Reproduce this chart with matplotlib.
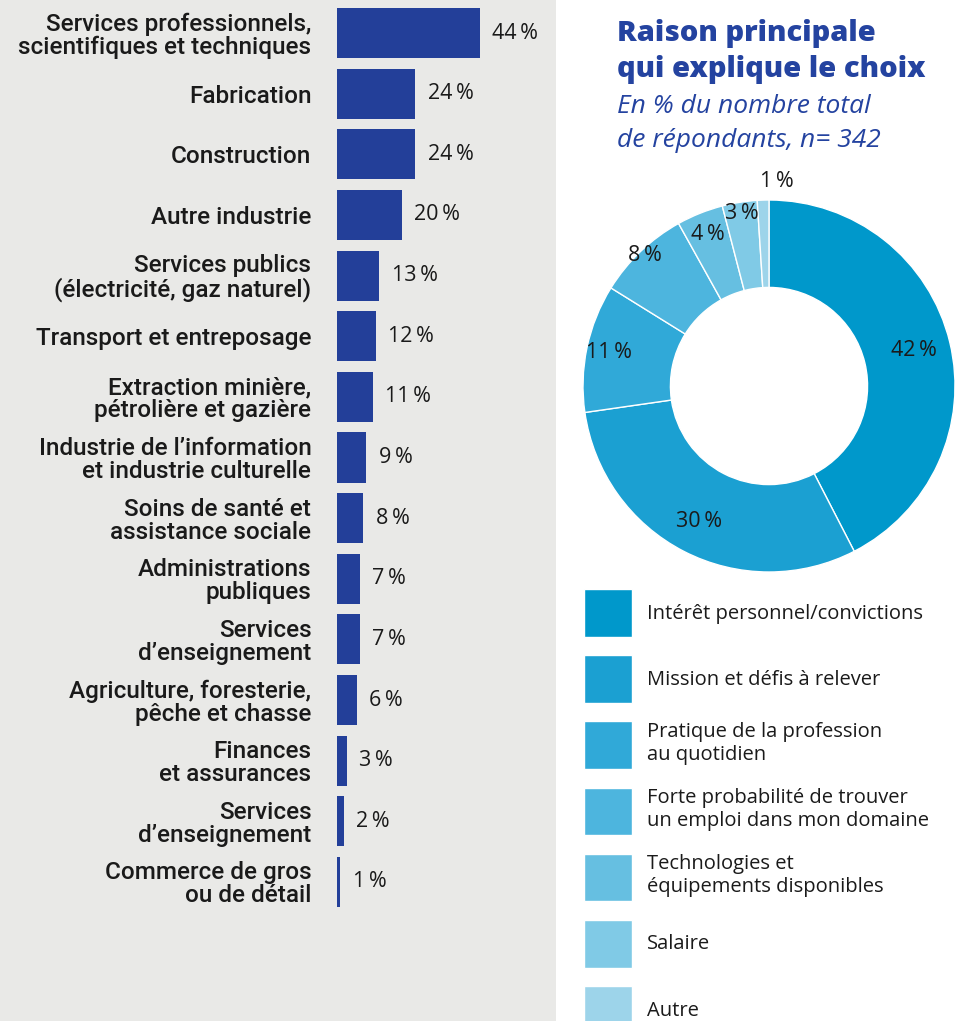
import matplotlib
matplotlib.use("Agg")
import matplotlib.pyplot as plt
from matplotlib.patches import Rectangle
import numpy as np

# ----- data -----------------------------------------------------------
sectors = [
    "Services professionnels,\nscientifiques et techniques",
    "Fabrication",
    "Construction",
    "Autre industrie",
    "Services publics\n(électricité, gaz naturel)",
    "Transport et entreposage",
    "Extraction minière,\npétrolière et gazière",
    "Industrie de l’information\net industrie culturelle",
    "Soins de santé et\nassistance sociale",
    "Administrations\npubliques",
    "Services\nd’enseignement",
    "Agriculture, foresterie,\npêche et chasse",
    "Finances\net assurances",
    "Services\nd’enseignement",
    "Commerce de gros\nou de détail",
]
sector_pct = [44, 24, 24, 20, 13, 12, 11, 9, 8, 7, 7, 6, 3, 2, 1]

reasons = [
    "Intérêt personnel/convictions",
    "Mission et défis à relever",
    "Pratique de la profession\nau quotidien",
    "Forte probabilité de trouver\nun emploi dans mon domaine",
    "Technologies et\néquipements disponibles",
    "Salaire",
    "Autre",
]
reason_pct = [42, 30, 11, 8, 4, 3, 1]

# ----- style ----------------------------------------------------------
FONT = "Open Sans"
LABEL_FONT = "Roboto"
BAR_COLOR = "#233f99"
TITLE_COLOR = "#2443a0"
GREY = "#e9e9e7"
TXT = "#1a1a1a"
DONUT_COLORS = ["#0098cb", "#1ba0d2", "#30a9d8", "#4db5de",
                "#66bfe1", "#80cae6", "#9dd4ea"]
LABEL_R = [0.80, 0.82, 0.88, 0.97, 0.88, 0.94, 1.10]

W, H = 955, 1021
plt.rcParams["font.family"] = [FONT, "DejaVu Sans"]
fig = plt.figure(figsize=(W / 100, H / 100), dpi=100)
fig.patch.set_facecolor("white")
fig.patches.append(Rectangle((0, 0), 556 / W, 1, transform=fig.transFigure,
                             facecolor=GREY, edgecolor="none", zorder=-10))


def px(x0, y0, x1, y1):
    """pixel box (top-left origin) -> figure fraction rect"""
    return [x0 / W, 1 - y1 / H, (x1 - x0) / W, (y1 - y0) / H]


# ----- bars -----------------------------------------------------------
ax = fig.add_axes(px(337, 2.7, 532, 912.3))
ax.set_facecolor("none")
y = np.arange(len(sectors))
ax.barh(y, sector_pct, height=0.825, color=BAR_COLOR)
ax.set_xlim(0, 60)
ax.set_ylim(len(sectors) - 0.5, -0.5)
ax.set_yticks(y)
ax.set_yticklabels(sectors, fontsize=17.5, fontweight="medium", color=TXT,
                   linespacing=1.0, ha="right", family=[LABEL_FONT, "DejaVu Sans"])
ax.tick_params(axis="y", length=0, pad=18.5)
ax.set_xticks([])
for s in ax.spines.values():
    s.set_visible(False)
for yi, v in zip(y, sector_pct):
    ax.annotate(f"{v}\u2009%", (v, yi), xytext=(9, 0), textcoords="offset points",
                va="center", ha="left", fontsize=15.5, color=TXT)

# ----- titles ---------------------------------------------------------
for txt, yb in [("Raison principale", 41), ("qui explique le choix", 77)]:
    fig.text(617 / W, 1 - yb / H, txt, fontsize=21, fontweight="heavy",
             color=TITLE_COLOR)
for txt, yb in [("En % du nombre total", 113), ("de répondants, n= 342", 147)]:
    fig.text(617 / W, 1 - yb / H, txt, fontsize=19, style="italic",
             color=TITLE_COLOR)

# ----- donut ----------------------------------------------------------
ax2 = fig.add_axes(px(583, 200, 955, 572))
wedges, _ = ax2.pie(reason_pct, colors=DONUT_COLORS, startangle=90,
                    counterclock=False, radius=1,
                    wedgeprops=dict(width=0.47, edgecolor="white", linewidth=1))
ax2.set_xlim(-1, 1)
ax2.set_ylim(-1, 1)
ax2.set_aspect("equal")
ax2.axis("off")
for w, v, r in zip(wedges, reason_pct, LABEL_R):
    ang = np.deg2rad((w.theta1 + w.theta2) / 2)
    if v == 1:
        ang -= np.deg2rad(4)
    ax2.text(r * np.cos(ang), r * np.sin(ang), f"{v}\u2009%", ha="center",
             va="center", fontsize=15.5, color=TXT, clip_on=False)

fs = 14.5
fpx = fs * 100 / 72
fig.legend(wedges, reasons, loc="upper left",
           bbox_to_anchor=(584 / W, 1 - 589 / H), frameon=False,
           fontsize=fs, handlelength=48 / fpx,
           handleheight=48 / fpx * 1.37,
           labelspacing=18.5 / fpx,
           handletextpad=15 / fpx, borderpad=0,
           borderaxespad=0, labelcolor=TXT)

fig.savefig("out.png", dpi=100)
